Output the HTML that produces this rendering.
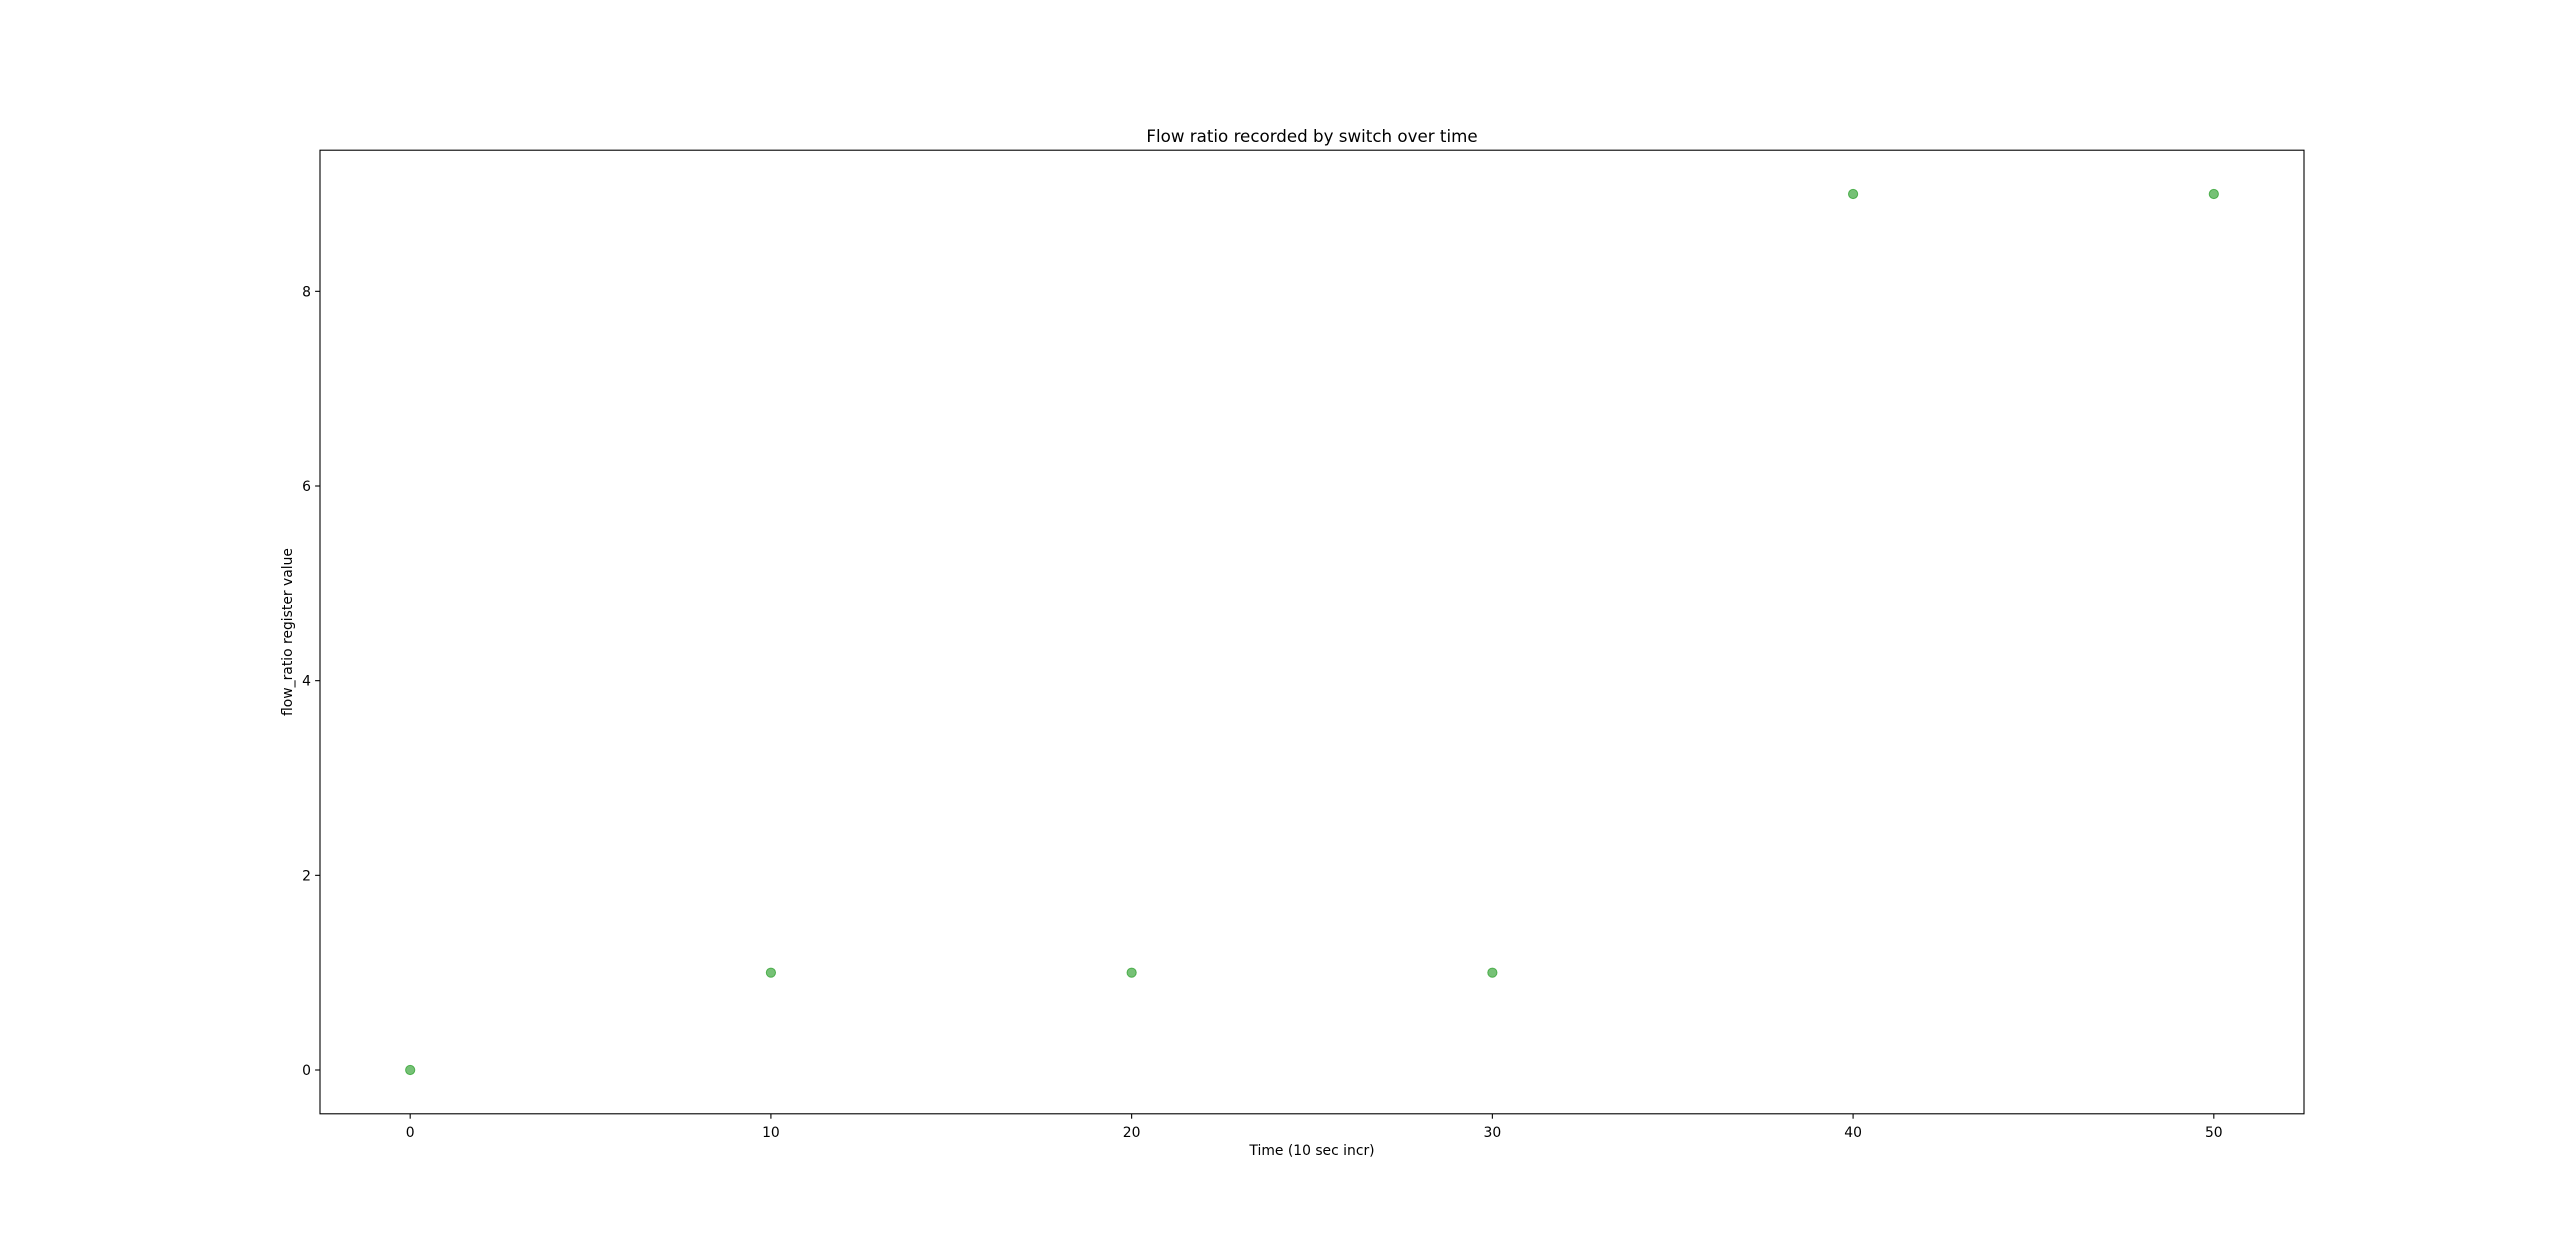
<!DOCTYPE html>
<html><head><meta charset="utf-8"><style>
html,body{margin:0;padding:0;background:#fff;}
svg{display:block;font-family:"DejaVu Sans","Liberation Sans",sans-serif;}
</style></head><body>
<svg id="chart" width="2560" height="1252" xmlns="http://www.w3.org/2000/svg">
<rect width="2560" height="1252" fill="#fff"/>
<g id="g"></g>
</svg>
<script>
const xValues = [0, 10, 20, 30, 40, 50];
const yValues = [0, 1, 1, 1, 9, 9];
const xTicks = [0, 10, 20, 30, 40, 50];
const yTicks = [0, 2, 4, 6, 8];

const L=320, R=2304, T=150.2, B=1113.8;
const xmin=-2.5, xmax=52.5, ymin=-0.45, ymax=9.45;
const sx = v => L + (v - xmin)/(xmax - xmin)*(R-L);
const sy = v => B - (v - ymin)/(ymax - ymin)*(B-T);
const NS="http://www.w3.org/2000/svg";
const g=document.getElementById('g');
function mk(tag, attrs, text){
  const e=document.createElementNS(NS,tag);
  for(const k in attrs) e.setAttribute(k, attrs[k]);
  if(text!==undefined) e.textContent=text;
  g.appendChild(e); return e;
}
xTicks.forEach(t=>{
  const x=sx(t);
  const l=mk('line',{x1:x,x2:x,y1:B,y2:B+4.9,stroke:'#000','stroke-width':1.1});
  
  
  const tx=mk('text',{x:x,y:B+23,'font-size':'13.9','text-anchor':'middle',fill:'#000'},String(t));
  
  
});
yTicks.forEach(t=>{
  const y=sy(t);
  const l=mk('line',{x1:L-4.9,x2:L,y1:y,y2:y,stroke:'#000','stroke-width':1.1});
  
  
  const tx=mk('text',{x:L-9,y:y+5,'font-size':'13.9','text-anchor':'end',fill:'#000'},String(t));
  
  
});
xValues.forEach((v,i)=>{
  const c=mk('circle',{cx:sx(v),cy:sy(yValues[i]),r:4.6,fill:'#2ca02c','fill-opacity':0.65,stroke:'#2ca02c','stroke-opacity':0.75,'stroke-width':1});
  
  
});
const fr=mk('rect',{x:L,y:T,width:R-L,height:B-T,fill:'none',stroke:'#000','stroke-width':1.1});


const ti=mk('text',{x:(L+R)/2,y:T-8,'font-size':'16.7','text-anchor':'middle',fill:'#000'},'Flow ratio recorded by switch over time');


const xt=mk('text',{x:(L+R)/2,y:B+41,'font-size':'13.9','text-anchor':'middle',fill:'#000'},'Time (10 sec incr)');


const yt=mk('text',{x:0,y:0,'font-size':'13.9','text-anchor':'middle',fill:'#000',transform:`translate(292,${(T+B)/2}) rotate(-90)`},'flow_ratio register value');


</script>
</body></html>
